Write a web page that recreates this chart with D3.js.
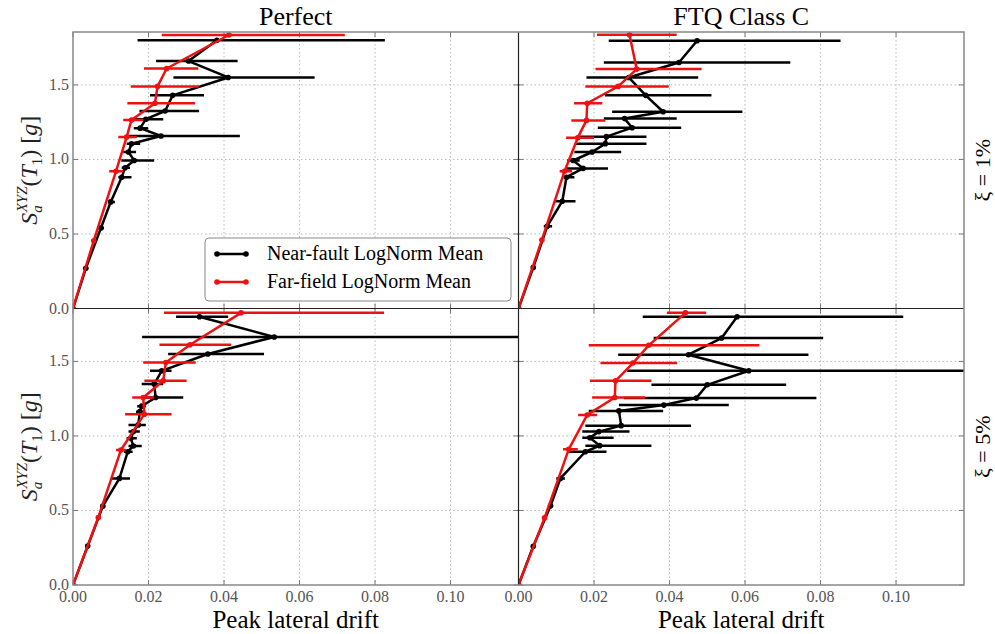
<!DOCTYPE html>
<head>
  <meta charset="utf-8">
  <title>Peak lateral drift</title>
  <script src="https://d3js.org/d3.v7.min.js"></script>
  <style>
    body { margin: 0; background: #fff; }
    svg { display: block; font-family: 'Liberation Serif', 'DejaVu Serif', serif; }
    .grid-line { stroke: #b8b8b8; stroke-width: 1; stroke-dasharray: 1.5,2.5; }
    .tick-label { fill: #555; font-size: 16px; }
    .err { stroke-width: 2.5; fill: none; }
    .mean-line { stroke-width: 2.5; fill: none; stroke-linejoin: round; }
  </style>
</head>
<body>
<script>
// rows are [Sa, mean drift, lower, upper]
var nearPerfect1 = [
  [1.80, 0.0381, 0.0171, 0.0826], [1.66, 0.0306, 0.0220, 0.0436], [1.55, 0.0411, 0.0266, 0.0640],
  [1.43, 0.0264, 0.0204, 0.0347], [1.325, 0.0244, 0.0176, 0.0334], [1.27, 0.0193, 0.0155, 0.0239],
  [1.21, 0.0178, 0.0161, 0.0199], [1.157, 0.0233, 0.0147, 0.0442], [1.105, 0.0155, 0.0142, 0.0178],
  [1.05, 0.0147, 0.0133, 0.0167], [0.993, 0.0162, 0.0128, 0.0215], [0.944, 0.0138, 0.0129, 0.0151],
  [0.881, 0.0129, 0.0120, 0.0155], [0.715, 0.0100, 0.0094, 0.0111], [0.54, 0.0074, 0.0068, 0.0082],
  [0.27, 0.0034, 0.0031, 0.0037], [0, 0, 0, 0]
];
var farPerfect1 = [
  [1.835, 0.0413, 0.0235, 0.0720], [1.61, 0.0248, 0.0188, 0.0332], [1.49, 0.0224, 0.0153, 0.0333],
  [1.377, 0.0217, 0.0144, 0.0323], [1.265, 0.0155, 0.0133, 0.0186], [1.15, 0.0142, 0.0120, 0.0169],
  [0.921, 0.0114, 0.0096, 0.0133], [0.455, 0.0055, 0.0051, 0.0059], [0, 0, 0, 0]
];
var nearFTQ1 = [
  [1.796, 0.0473, 0.0239, 0.0853], [1.65, 0.0425, 0.0226, 0.0720], [1.55, 0.0292, 0.0180, 0.0476],
  [1.43, 0.0337, 0.0229, 0.0511], [1.32, 0.0383, 0.0248, 0.0593], [1.274, 0.0281, 0.0226, 0.0419],
  [1.213, 0.0301, 0.0210, 0.0431], [1.153, 0.0233, 0.0154, 0.0339], [1.106, 0.0230, 0.0151, 0.0339],
  [1.05, 0.0195, 0.0148, 0.0272], [0.993, 0.0145, 0.0129, 0.0162], [0.94, 0.0171, 0.0127, 0.0237],
  [0.881, 0.0127, 0.0120, 0.0148], [0.72, 0.0116, 0.0094, 0.0151], [0.551, 0.0076, 0.0067, 0.0089],
  [0.275, 0.0039, 0.0036, 0.0042], [0, 0, 0, 0]
];
var farFTQ1 = [
  [1.837, 0.0294, 0.0208, 0.0419], [1.606, 0.0313, 0.0204, 0.0485], [1.49, 0.0264, 0.0177, 0.0398],
  [1.377, 0.0182, 0.0147, 0.0222], [1.262, 0.0180, 0.0140, 0.0230], [1.146, 0.0157, 0.0126, 0.0200],
  [0.921, 0.0122, 0.0109, 0.0142], [0.46, 0.0062, 0.0058, 0.0066], [0, 0, 0, 0]
];
var nearPerfect5 = [
  [1.80, 0.0335, 0.0273, 0.0411], [1.664, 0.0533, 0.0183, 0.125], [1.55, 0.0357, 0.0252, 0.0506],
  [1.437, 0.0235, 0.0204, 0.0261], [1.348, 0.0215, 0.0182, 0.0239], [1.258, 0.0219, 0.0186, 0.0292],
  [1.20, 0.0182, 0.0170, 0.0193], [1.163, 0.0177, 0.0167, 0.0191], [1.074, 0.0173, 0.0147, 0.0193],
  [1.029, 0.0160, 0.0147, 0.0177], [0.984, 0.0153, 0.0142, 0.0169], [0.933, 0.0160, 0.0147, 0.0182],
  [0.894, 0.0145, 0.0135, 0.0158], [0.715, 0.0123, 0.0103, 0.0151], [0.529, 0.0079, 0.0074, 0.0085],
  [0.262, 0.0039, 0.0036, 0.0042], [0, 0, 0, 0]
];
var farPerfect5 = [
  [1.826, 0.0445, 0.0241, 0.0824], [1.612, 0.0310, 0.0229, 0.0419], [1.493, 0.0246, 0.0186, 0.0325],
  [1.37, 0.0239, 0.0189, 0.0301], [1.258, 0.0186, 0.0157, 0.0215], [1.146, 0.0189, 0.0138, 0.0261],
  [0.906, 0.0127, 0.0114, 0.0140], [0.453, 0.0067, 0.0062, 0.0072], [0, 0, 0, 0]
];
var nearFTQ5 = [
  [1.80, 0.0579, 0.0329, 0.1019], [1.657, 0.0538, 0.0358, 0.0807], [1.545, 0.0450, 0.0264, 0.0768],
  [1.437, 0.0610, 0.0288, 0.13], [1.343, 0.0500, 0.0352, 0.0709], [1.254, 0.0471, 0.0279, 0.0789],
  [1.207, 0.0385, 0.0266, 0.0557], [1.168, 0.0266, 0.0186, 0.0383], [1.069, 0.0272, 0.0177, 0.0457],
  [1.029, 0.0213, 0.0169, 0.0294], [0.988, 0.0189, 0.0169, 0.0252], [0.935, 0.0215, 0.0177, 0.0352],
  [0.894, 0.0177, 0.0133, 0.0233], [0.715, 0.0111, 0.0100, 0.0123], [0.531, 0.0085, 0.0080, 0.0090],
  [0.26, 0.0039, 0.0036, 0.0042], [0, 0, 0, 0]
];
var farFTQ5 = [
  [1.826, 0.0442, 0.0393, 0.0497], [1.608, 0.0345, 0.0186, 0.0638], [1.489, 0.0303, 0.0217, 0.0420],
  [1.37, 0.0257, 0.0189, 0.0352], [1.258, 0.0255, 0.0195, 0.0335], [1.141, 0.0182, 0.0158, 0.0208],
  [0.91, 0.0133, 0.0118, 0.0157], [0.45, 0.0069, 0.0064, 0.0074], [0, 0, 0, 0]
];

var columnTitles = ["Perfect", "FTQ Class C"];
var rowLabels = ["\u03be = 1%", "\u03be = 5%"];
var seriesNames = ["Near-fault LogNorm Mean", "Far-field LogNorm Mean"];
var seriesColors = ["#000000", "#ee1111"];
var xTicks = [0, 0.02, 0.04, 0.06, 0.08, 0.10];
var yTicks = [0, 0.5, 1.0, 1.5];

var panels = [
  {row: 0, col: 0, near: nearPerfect1, far: farPerfect1},
  {row: 0, col: 1, near: nearFTQ1, far: farFTQ1},
  {row: 1, col: 0, near: nearPerfect5, far: farPerfect5},
  {row: 1, col: 1, near: nearFTQ5, far: farFTQ5}
];

var W = 995, H = 634;
var mLeft = 73, pw = 445.5, mTop = 32, ph = 276.5;

var svg = d3.select("body").append("svg")
  .attr("width", W).attr("height", H);

var x = d3.scaleLinear().domain([0, 0.118]).range([0, pw]);
var y = d3.scaleLinear().domain([0, 1.855]).range([ph, 0]);

var line = d3.line().x(d => x(d[1])).y(d => y(d[0]));

svg.append("defs").append("clipPath").attr("id", "clip")
  .append("rect").attr("x", 0).attr("y", -8).attr("width", pw).attr("height", ph + 8);

panels.forEach(function(p) {
  var g = svg.append("g")
    .attr("transform", "translate(" + (mLeft + p.col * pw) + "," + (mTop + p.row * ph) + ")");

  // grid
  g.append("g").selectAll("line")
    .data(xTicks.slice(1))
    .enter().append("line")
      .attr("class", "grid-line")
      .attr("x1", d => x(d)).attr("x2", d => x(d))
      .attr("y1", 0).attr("y2", ph);
  g.append("g").selectAll("line")
    .data(yTicks.slice(1))
    .enter().append("line")
      .attr("class", "grid-line")
      .attr("x1", 0).attr("x2", pw)
      .attr("y1", d => y(d)).attr("y2", d => y(d));

  // ticks (inward, all sides)
  var tk = g.append("g").attr("stroke", "#777").attr("stroke-width", 1);
  xTicks.forEach(function(t) {
    tk.append("line").attr("x1", x(t)).attr("x2", x(t)).attr("y1", ph).attr("y2", ph - 5);
    tk.append("line").attr("x1", x(t)).attr("x2", x(t)).attr("y1", 0).attr("y2", 5);
  });
  yTicks.forEach(function(t) {
    tk.append("line").attr("x1", 0).attr("x2", 5).attr("y1", y(t)).attr("y2", y(t));
    tk.append("line").attr("x1", pw).attr("x2", pw - 5).attr("y1", y(t)).attr("y2", y(t));
  });

  var plot = g.append("g").attr("clip-path", "url(#clip)");
  [p.near, p.far].forEach(function(data, i) {
    var col = seriesColors[i];
    var s = plot.append("g");
    s.selectAll(".err")
      .data(data.filter(d => d[0] > 0))
      .enter().append("line")
        .attr("class", "err")
        .attr("stroke", col)
        .attr("x1", d => x(d[2])).attr("x2", d => x(d[3]))
        .attr("y1", d => y(d[0])).attr("y2", d => y(d[0]));
    s.append("path")
      .attr("class", "mean-line")
      .attr("stroke", col)
      .attr("d", line(data));
    s.selectAll("circle")
      .data(data)
      .enter().append("circle")
        .attr("cx", d => x(d[1])).attr("cy", d => y(d[0]))
        .attr("r", 2.8).attr("fill", col);
  });

  // tick labels
  if (p.col == 0) {
    g.append("g").selectAll("text")
      .data(yTicks)
      .enter().append("text")
        .attr("class", "tick-label")
        .attr("x", -4).attr("y", d => y(d) + 5)
        .attr("text-anchor", "end")
        .text(d => d.toFixed(1));
  }
  if (p.row == 1) {
    g.append("g").selectAll("text")
      .data(xTicks)
      .enter().append("text")
        .attr("class", "tick-label")
        .attr("x", d => x(d)).attr("y", ph + 17)
        .attr("text-anchor", "middle")
        .text(d => d.toFixed(2));
  }
  if (p.row == 0) {
    g.append("text")
      .attr("x", pw / 2).attr("y", -7)
      .attr("text-anchor", "middle")
      .attr("font-size", 26)
      .text(columnTitles[p.col]);
  }
  if (p.row == 1) {
    g.append("text")
      .attr("x", pw / 2).attr("y", ph + 43)
      .attr("text-anchor", "middle")
      .attr("font-size", 25)
      .text("Peak lateral drift");
  }
  if (p.col == 0) {
    var yl = g.append("text")
      .attr("transform", "translate(-36," + (ph / 2) + ") rotate(-90)")
      .attr("text-anchor", "middle")
      .attr("font-size", 24)
      .attr("fill", "#222");
    yl.append("tspan").attr("font-style", "italic").text("S");
    yl.append("tspan").attr("font-style", "italic").attr("font-size", 15).attr("dy", 5).text("a");
    yl.append("tspan").attr("font-style", "italic").attr("font-size", 15).attr("dx", -7).attr("dy", -15).text("XYZ");
    yl.append("tspan").attr("dy", 10).text("(");
    yl.append("tspan").attr("font-style", "italic").text("T");
    yl.append("tspan").attr("font-size", 15).attr("dy", 5).text("1");
    yl.append("tspan").attr("dy", -5).text(") [");
    yl.append("tspan").attr("font-style", "italic").text("g");
    yl.append("tspan").text("]");
  }
  if (p.col == 1) {
    g.append("text")
      .attr("transform", "translate(" + (pw + 26) + "," + (ph / 2) + ") rotate(-90)")
      .attr("text-anchor", "middle")
      .attr("font-size", 22)
      .text(rowLabels[p.row]);
  }
});

// frame
svg.append("line").attr("x1", mLeft + pw).attr("x2", mLeft + pw)
  .attr("y1", mTop).attr("y2", mTop + 2 * ph).attr("stroke", "#222").attr("stroke-width", 1.2);
svg.append("line").attr("x1", mLeft).attr("x2", mLeft + 2 * pw)
  .attr("y1", mTop + ph).attr("y2", mTop + ph).attr("stroke", "#222").attr("stroke-width", 1.2);
svg.append("rect")
  .attr("x", mLeft).attr("y", mTop).attr("width", 2 * pw).attr("height", 2 * ph)
  .attr("fill", "none").attr("stroke", "#888").attr("stroke-width", 1.5);

// legend
var lg = svg.append("g").attr("transform", "translate(205,238)");
lg.append("rect")
  .attr("width", 306).attr("height", 63).attr("rx", 4)
  .attr("fill", "#fff").attr("stroke", "#888").attr("stroke-width", 1);
seriesNames.forEach(function(name, i) {
  var yy = 16 + i * 28;
  lg.append("line").attr("x1", 12).attr("x2", 41).attr("y1", yy).attr("y2", yy)
    .attr("stroke", seriesColors[i]).attr("stroke-width", 2.5);
  [12, 41].forEach(function(cx) {
    lg.append("circle").attr("cx", cx).attr("cy", yy).attr("r", 2.8).attr("fill", seriesColors[i]);
  });
  lg.append("text").attr("x", 62).attr("y", yy + 6)
    .attr("font-size", 20).text(name);
});
</script>
</body>
